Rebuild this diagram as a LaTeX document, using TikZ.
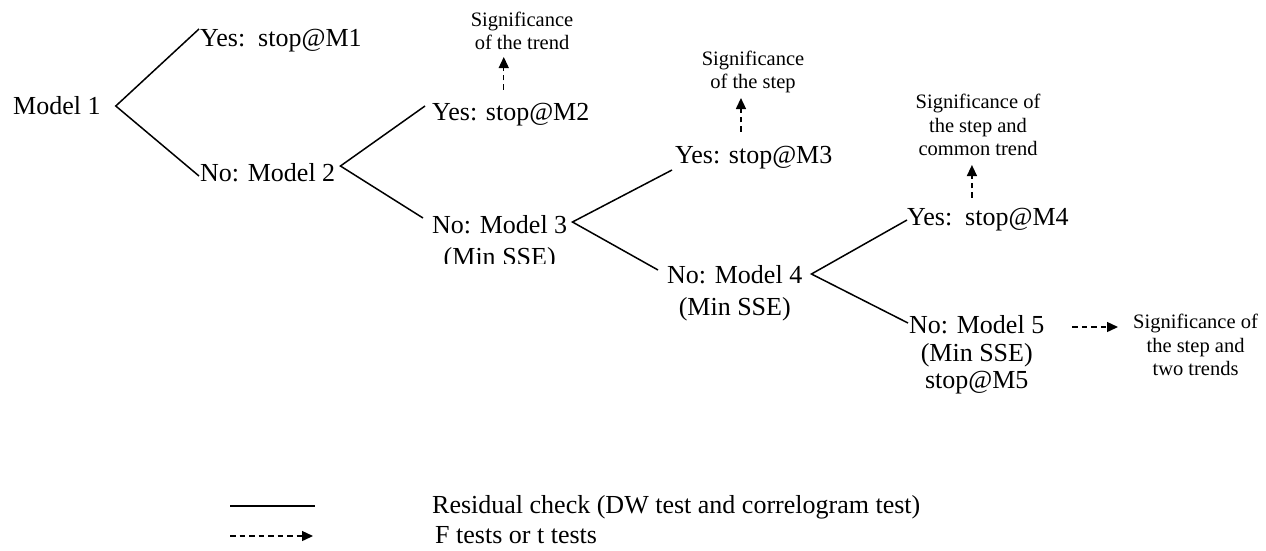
\documentclass[tikz,border=0pt]{standalone}
\usepackage{fontspec}
\setmainfont{Liberation Serif}
\usetikzlibrary{arrows.meta}
\begin{document}
\begin{tikzpicture}[x=1pt,y=-1pt,
  lbl/.style={font=\fontsize{26}{31}\selectfont, inner sep=0pt, anchor=base west},
  sub/.style={font=\fontsize{26}{31}\selectfont, inner sep=0pt, anchor=base},
  sig/.style={font=\fontsize{20.5}{23.5}\selectfont, inner sep=0pt, align=center, text depth=0pt},
  branch/.style={line width=1.5pt},
  test/.style={line width=1.4pt, dash pattern=on 5.5pt off 4pt, -{Triangle[length=11pt,width=10pt]}}]
\useasboundingbox (0,0) rectangle (1266,550);

% main labels
\node[lbl] (m1) at (13,114.5) {Model 1};
\node[lbl] (y1) at (200,46.5) {Yes:\ \ stop@M1};
\node[lbl] (n2) at (200,181.5) {No: Model 2};
\node[lbl] (y2) at (432,120.5) {Yes: stop@M2};
\node[lbl] (n3) at (432,233.5) {No: Model 3};
\begin{scope}
  \clip (380,236) rectangle (620,263);
  \node[sub] (n3b) at ([yshift=-32pt]n3.base) {(Min SSE)};
\end{scope}
\node[lbl] (y3) at (675,163.5) {Yes: stop@M3};
\node[lbl] (n4) at (667,283.5) {No: Model 4};
\node[sub] (n4b) at ([yshift=-32pt]n4.base) {(Min SSE)};
\node[lbl] (y4) at (907,225.5) {Yes:\ \ stop@M4};
\node[lbl] (n5) at (909,333.5) {No: Model 5};
\node[sub] (n5b) at ([yshift=-28pt]n5.base) {(Min SSE)};
\node[sub] (n5c) at ([yshift=-27pt]n5b.base) {stop@M5};

% significance labels
\node[sig, anchor=south] (s2) at (522,50) {Significance\\of the trend};
\node[sig, anchor=south] (s3) at (753,89) {Significance\\of the step};
\node[sig, anchor=south] (s4) at (978,156) {Significance of\\the step and\\common trend};
\node[sig, anchor=west] (s5) at (1133,345) {Significance of\\the step and\\two trends};

% branch points
\coordinate (v1) at ([xshift=15pt,yshift=8.5pt]m1.base east);
\coordinate (v2) at ([xshift=5pt,yshift=15.5pt]n2.base east);
\coordinate (v3) at ([xshift=5pt,yshift=11.5pt]n3.base east);
\coordinate (v4) at ([xshift=9pt,yshift=9.5pt]n4.base east);

% residual-check branches
\draw[branch] ([xshift=-1pt,yshift=17.5pt]y1.base west) -- (v1) -- ([xshift=-1pt,yshift=5.5pt]n2.base west);
\draw[branch] ([xshift=-7pt,yshift=14.5pt]y2.base west) -- (v2) -- ([xshift=-9pt,yshift=15.5pt]n3.base west);
\draw[branch] ([xshift=-3pt,yshift=-6.5pt]y3.base west) -- (v3) -- ([xshift=-9pt,yshift=13.5pt]n4.base west);
\draw[branch] ([xshift=0pt,yshift=5.5pt]y4.base west) -- (v4) -- ([xshift=-1pt,yshift=10.5pt]n5.base west);

% F / t test arrows
\coordinate (a2) at ([xshift=-7pt,yshift=13pt]y2.north);
\coordinate (a3) at ([xshift=-12.8pt,yshift=14pt]y3.north);
\coordinate (a4) at ([xshift=-16pt,yshift=10pt]y4.north);
\coordinate (a5) at ([xshift=28pt,yshift=6.5pt]n5.base east);
\draw[test, shorten >=7pt] (a2) -- (a2 |- s2.south);
\draw[test, shorten >=9pt] (a3) -- (a3 |- s3.south);
\draw[test, shorten >=9pt] (a4) -- (a4 |- s4.south);
\draw[test, shorten >=15pt] (a5) -- (a5 -| s5.west);

% legend
\node[lbl] (lt1) at (432,513.5) {Residual check (DW test and correlogram test)};
\node[lbl] (lt2) at (435,543) {F tests or t tests};
\coordinate (la1) at ([xshift=-202pt,yshift=7.5pt]lt1.base west);
\coordinate (lb1) at ([xshift=-117pt,yshift=7.5pt]lt1.base west);
\coordinate (la2) at ([xshift=-205pt,yshift=7pt]lt2.base west);
\coordinate (lb2) at ([xshift=-122pt,yshift=7pt]lt2.base west);
\draw[branch] (la1) -- (lb1);
\draw[test] (la2) -- (lb2);
\end{tikzpicture}
\end{document}
